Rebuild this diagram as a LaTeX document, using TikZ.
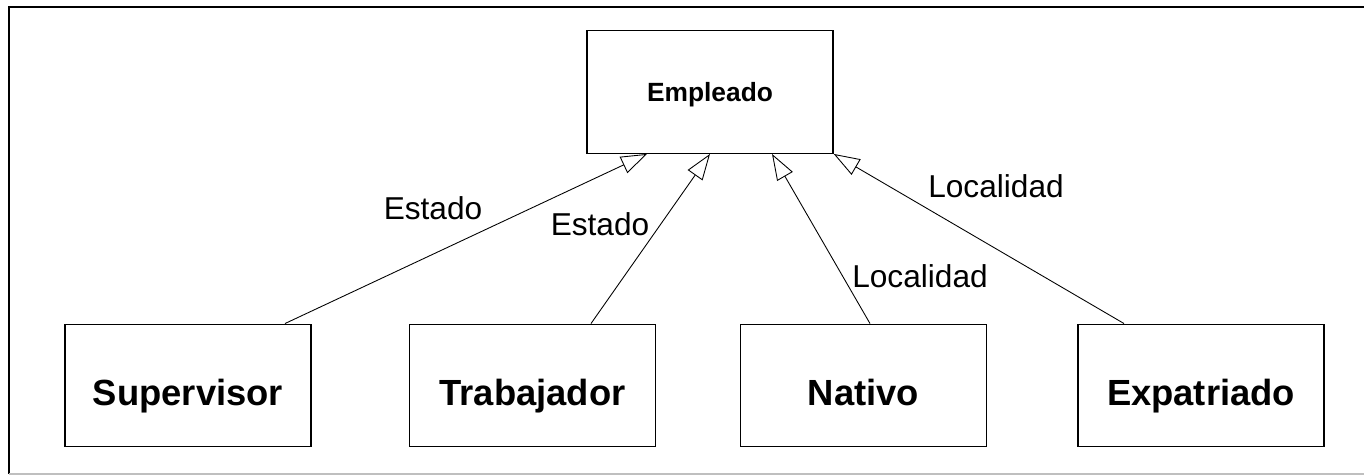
\documentclass[tikz,border=0pt]{standalone}
\usepackage{fontspec}
\setmainfont{Liberation Sans}
\usetikzlibrary{arrows.meta}
\tikzset{
clase/.style={draw, line width=0.8pt, minimum width=4.92cm, minimum height=2.45cm, inner sep=0pt, text height=24pt, text depth=1pt, font=\bfseries\fontsize{20.7}{24}\selectfont},
hereda/.style={-{Triangle[open, length=0.52cm, width=0.36cm]}, line width=0.5pt},
etiqueta/.style={font=\fontsize{18}{20}\selectfont, inner sep=0pt}
}
\begin{document}
\begin{tikzpicture}
\useasboundingbox (0,0) rectangle (27.28,9.5);
\draw[line width=1.2pt] (0.18,0.02)--(0.18,9.36)--(27.28,9.36);
\draw[black!25, line width=0.6pt] (0.18,0.02)--(27.28,0.02);
\node[clase, text height=11pt, text depth=0pt, font=\bfseries\fontsize{15}{18}\selectfont] (emp) at (14.2,7.66) {Empleado};
\node[clase] (sup) at (3.76,1.79) {Supervisor};
\node[clase] (tra) at (10.65,1.79) {Trabajador};
\node[clase] (nat) at (17.27,1.79) {Nativo};
\node[clase] (exp) at (24.02,1.79) {Expatriado};
\draw[hereda] ([xshift=1.94cm]sup.north)--([xshift=-1.26cm]emp.south);
\draw[hereda] ([xshift=1.17cm]tra.north)--(emp.south);
\draw[hereda] ([xshift=0.13cm]nat.north)--([xshift=1.24cm]emp.south);
\draw[hereda] ([xshift=-1.54cm]exp.north)--(emp.south east);
\node[etiqueta] (e1) at (8.66,5.34) {Estado};
\node[etiqueta] (e2) at (12.0,5.02) {Estado};
\node[etiqueta] (l1) at (19.92,5.78) {Localidad};
\node[etiqueta] (l2) at (18.4,3.98) {Localidad};
\end{tikzpicture}
\end{document}
